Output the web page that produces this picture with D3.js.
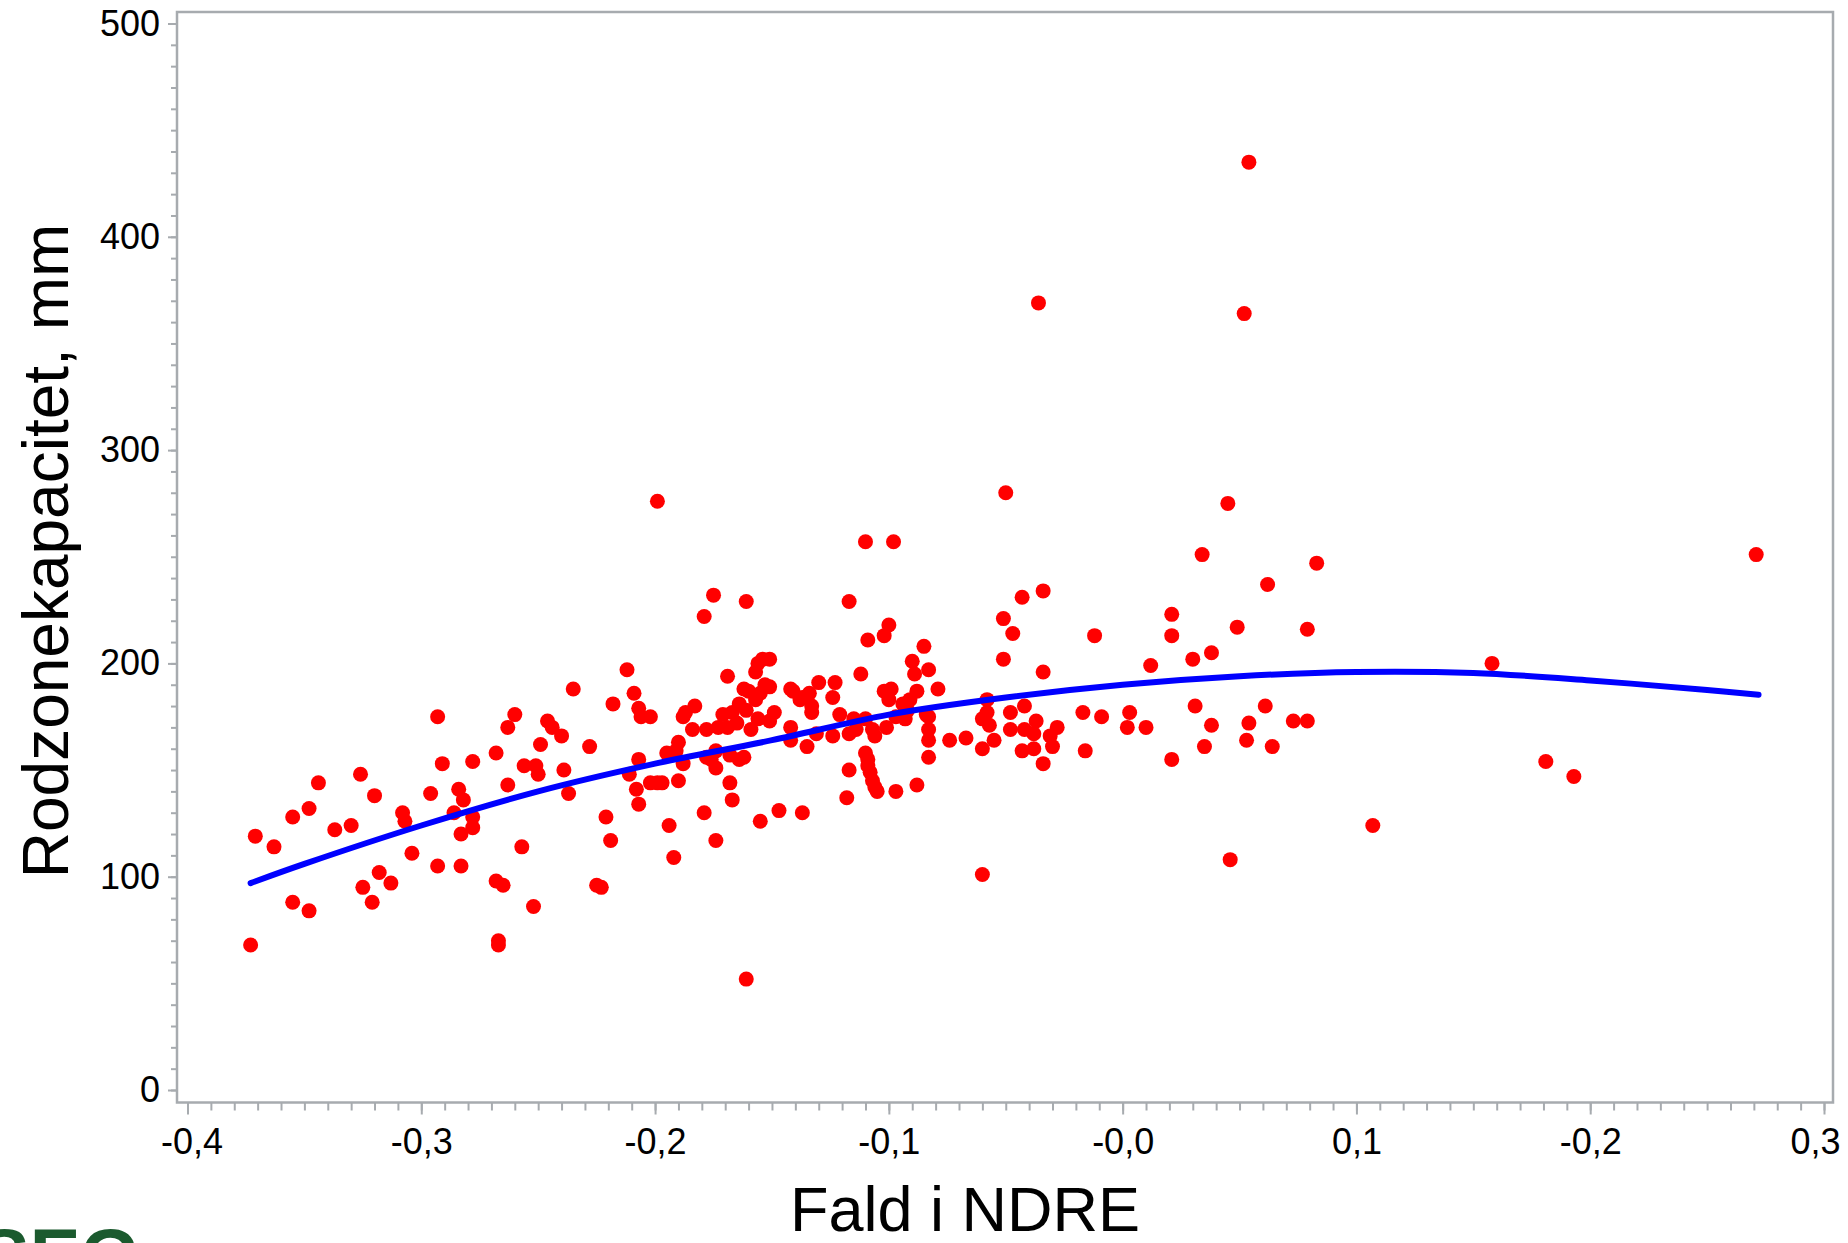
<!DOCTYPE html>
<html>
<head>
<meta charset="utf-8">
<script src="https://cdn.jsdelivr.net/npm/d3@7/dist/d3.min.js"></script>
<style>
  body { margin: 0; background: #fff; }
  svg { display: block; font-family: "Liberation Sans", Arial, sans-serif; }
</style>
</head>
<body>
<svg id="chart" width="1848" height="1243"></svg>
<script>
// Fald i NDRE (x) og rodzonekapacitet i mm (y)
var ndre = [
  -0.373,-0.371,-0.363,-0.355,-0.348,-0.344,-0.355,-0.348,-0.337,-0.330,
  -0.326,-0.325,-0.321,-0.320,-0.318,-0.313,-0.308,-0.307,-0.304,-0.296,
  -0.293,-0.293,-0.291,-0.286,-0.284,-0.282,-0.283,-0.283,-0.278,-0.278,
  -0.278,-0.268,-0.268,-0.265,-0.267,-0.267,-0.263,-0.263,-0.260,-0.257,
  -0.256,-0.252,-0.251,-0.249,-0.250,-0.246,-0.244,-0.240,-0.239,-0.237,
  -0.235,-0.228,-0.225,-0.223,-0.221,-0.219,-0.218,-0.212,
  -0.199,-0.209,-0.207,-0.202,-0.206,-0.211,-0.207,-0.208,-0.207,-0.202,
  -0.199,-0.197,-0.194,-0.192,-0.190,-0.188,-0.190,-0.187,-0.183,-0.184,
  -0.179,-0.175,-0.179,-0.174,-0.176,-0.178,-0.191,-0.174,-0.178,-0.173,
  -0.171,-0.169,-0.168,-0.167,-0.164,-0.162,-0.169,-0.165,-0.167,-0.164,
  -0.162,-0.160,-0.161,-0.159,-0.156,-0.157,-0.155,-0.157,-0.156,-0.154,
  -0.151,-0.155,-0.153,-0.151,-0.149,-0.151,-0.147,-0.142,-0.142,-0.141,
  -0.138,-0.137,-0.137,-0.135,-0.134,-0.133,-0.133,-0.131,-0.130,-0.124,
  -0.123,-0.124,-0.121,-0.117,-0.117,-0.118,-0.115,-0.117,-0.114,-0.112,
  -0.110,-0.109,-0.109,-0.108,-0.107,-0.106,-0.105,-0.110,-0.109,-0.110,
  -0.107,-0.106,-0.102,-0.100,-0.102,-0.099,-0.101,-0.098,-0.097,-0.094,
  -0.092,-0.097,-0.093,-0.090,-0.089,-0.088,-0.088,-0.085,-0.083,-0.084,
  -0.083,-0.083,-0.083,-0.083,-0.079,-0.074,-0.067,-0.060,-0.060,-0.058,
  -0.057,-0.060,-0.058,-0.051,-0.047,-0.051,-0.048,-0.048,-0.043,-0.042,
  -0.043,-0.042,-0.038,-0.037,-0.034,-0.034,-0.038,-0.034,-0.031,-0.028,
  -0.030,-0.017,-0.016,-0.012,-0.009,0.003,0.002,0.010,0.012,0.021,
  0.021,0.021,0.030,0.031,
  -0.161,-0.050,-0.036,0.045,0.034,0.083,0.062,0.049,0.079,0.038,
  0.158,0.061,0.038,0.054,0.073,0.079,0.053,0.035,0.064,0.107,
  0.181,0.193,0.271,0.046,0.052,0.054,
  -0.195,-0.174,-0.168,-0.161,-0.142,-0.100,-0.091,-0.055,-0.188
];

var rodzone = [
  68,119,114,128,132,144,88,84,122,124,
  148,95,88,138,102,97,130,126,111,139,
  175,105,153,130,141,136,120,105,154,123,
  128,158,98,96,70,68,143,170,176,114,
  152,86,152,162,148,173,170,166,150,139,
  188,161,96,95,128,117,181,197,
  276,186,179,175,175,148,155,141,134,144,
  144,144,124,109,145,153,163,177,180,169,
  222,232,130,151,155,156,159,117,169,170,
  176,194,144,136,155,156,170,172,177,181,
  188,187,229,169,174,183,186,196,200,202,
  202,126,190,189,177,173,131,164,188,187,
  183,184,130,161,186,180,177,167,191,166,
  191,184,176,229,150,137,174,167,169,195,
  158,155,152,149,145,142,140,257,211,174,
  169,166,213,218,187,188,170,257,140,181,
  178,175,174,201,195,187,143,208,197,176,
  175,169,164,156,188,164,165,101,174,177,
  171,160,183,221,214,202,177,169,159,180,
  231,169,167,173,234,196,160,153,166,170,
  161,177,159,213,175,177,170,170,199,223,
  213,155,202,180,
  52,280,369,275,251,247,237,217,216,205,
  200,180,171,172,173,173,164,161,161,124,
  154,147,251,108,364,435,
  158,159,157,178,170,183,183,164,175
];

// blå tendenskurve, aflæst
var fitX = [-0.373,-0.35,-0.3,-0.25,-0.2,-0.15,-0.1,-0.05,0,0.05,0.1,0.15,0.2,0.25,0.272];
var fitY = [97,106,124,140,153,164,176,184,190,194,196,195.5,192,187.5,185.3];

var xTicks = [-0.4,-0.3,-0.2,-0.1,0,0.1,0.2,0.3];
var xTickLabels = ["-0,4","-0,3","-0,2","-0,1","-0,0","0,1","-0,2","0,3"];
var yTicks = [0,100,200,300,400,500];

var frame = {left: 177, right: 1833, top: 12, bottom: 1102.5};
var axisColor = "#a7abaf";

var x = d3.scaleLinear().domain([-0.4, 0.3]).range([187.5, 1824]);
var y = d3.scaleLinear().domain([0, 500]).range([1090, 23.5]);

var svg = d3.select("#chart");

// minor ticks
var xMinor = d3.range(-40, 31).map(function(d){ return d / 100; });
var yMinor = d3.range(0, 501, 10);

svg.append("g")
  .attr("transform", "translate(0," + frame.bottom + ")")
  .call(d3.axisBottom(x).tickValues(xMinor).tickSize(8).tickFormat(""))
  .call(function(g){ g.select(".domain").remove(); })
  .selectAll("line").attr("stroke", axisColor).attr("stroke-width", 2);

svg.append("g")
  .attr("transform", "translate(" + frame.left + ",0)")
  .call(d3.axisLeft(y).tickValues(yMinor).tickSize(6).tickFormat(""))
  .call(function(g){ g.select(".domain").remove(); })
  .selectAll("line").attr("stroke", axisColor).attr("stroke-width", 2);

// major ticks + labels
var xAxis = svg.append("g")
  .attr("transform", "translate(0," + frame.bottom + ")")
  .call(d3.axisBottom(x).tickValues(xTicks).tickSize(12).tickPadding(14)
    .tickFormat(function(d, i){ return xTickLabels[i]; }));
xAxis.select(".domain").remove();
xAxis.selectAll("line").attr("stroke", axisColor).attr("stroke-width", 2);
xAxis.selectAll("text")
  .attr("font-size", 36)
  .attr("font-family", "Liberation Sans, Arial, sans-serif")
  .attr("fill", "#000")
  .attr("text-anchor", function(d, i){ return i == xTicks.length - 1 ? "end" : "middle"; })
  .attr("x", function(d, i){ return i == xTicks.length - 1 ? 16 : (i == 0 ? 4 : 0); });

var yAxis = svg.append("g")
  .attr("transform", "translate(" + frame.left + ",0)")
  .call(d3.axisLeft(y).tickValues(yTicks).tickSize(9).tickPadding(8));
yAxis.select(".domain").remove();
yAxis.selectAll("line").attr("stroke", axisColor).attr("stroke-width", 2);
yAxis.selectAll("text")
  .attr("font-size", 36)
  .attr("font-family", "Liberation Sans, Arial, sans-serif")
  .attr("fill", "#000");

// frame
svg.append("rect")
  .attr("x", frame.left)
  .attr("y", frame.top)
  .attr("width", frame.right - frame.left)
  .attr("height", frame.bottom - frame.top)
  .attr("fill", "none")
  .attr("stroke", axisColor)
  .attr("stroke-width", 2.5);

// points
var points = ndre.map(function(d, i){ return {x: d, y: rodzone[i]}; });

svg.append("g")
  .selectAll("circle")
  .data(points)
  .enter().append("circle")
  .attr("cx", function(d){ return x(d.x); })
  .attr("cy", function(d){ return y(d.y); })
  .attr("r", 7.5)
  .attr("fill", "#ff0000");

// fit curve
var line = d3.line()
  .x(function(d){ return x(d[0]); })
  .y(function(d){ return y(d[1]); })
  .curve(d3.curveCatmullRom);

svg.append("path")
  .datum(fitX.map(function(d, i){ return [d, fitY[i]]; }))
  .attr("d", line)
  .attr("fill", "none")
  .attr("stroke", "#0000ff")
  .attr("stroke-width", 6)
  .attr("stroke-linecap", "round");

// axis titles
svg.append("text")
  .attr("x", 965)
  .attr("y", 1231)
  .attr("text-anchor", "middle")
  .attr("font-size", 63)
  .text("Fald i NDRE");

svg.append("text")
  .attr("transform", "translate(68,551) rotate(-90)")
  .attr("text-anchor", "middle")
  .attr("font-size", 64)
  .text("Rodzonekapacitet, mm");

// logo, cut by the picture edge as in the original
svg.append("text")
  .attr("x", -21)
  .attr("y", 1282)
  .attr("font-size", 76)
  .attr("font-weight", "bold")
  .attr("fill", "#1b5a2e")
  .text("SEG");
</script>
</body>
</html>
